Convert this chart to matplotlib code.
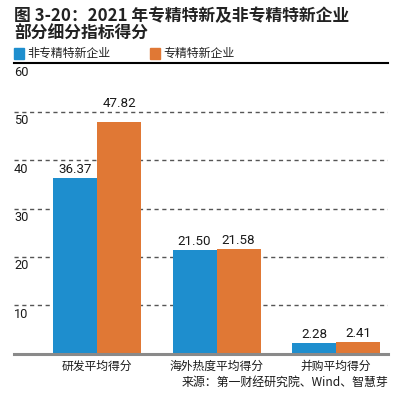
import matplotlib
matplotlib.use("Agg")
import matplotlib.pyplot as plt
import numpy as np

plt.rcParams['font.family'] = ['Noto Sans CJK SC', 'DejaVu Sans']

# data
categories = ['研发平均得分', '海外热度平均得分', '并购平均得分']
non_specialized = [36.37, 21.50, 2.28]
specialized = [47.82, 21.58, 2.41]
series_names = ['非专精特新企业', '专精特新企业']
yticks = [10, 20, 30, 40, 50, 60]

blue = '#1E8ECE'
orange = '#E07835'

W, H = 399, 395
fig = plt.figure(figsize=(W / 100, H / 100), dpi=100)

# axes placed in pixel units
left, right, top, bottom = 14, 388, 63.3, 353.7
ax = fig.add_axes([left / W, 1 - bottom / H, (right - left) / W, (bottom - top) / H])

x = np.arange(len(categories))
bw = 0.368
ax.set_xlim(-0.695, 2.435)
ax.set_ylim(0, 60)

for yv in yticks[:-1]:
    ax.axhline(yv, color='#555555', lw=1.0, ls=(0, (3, 2.6)), zorder=1)
ax.axhline(60, color='black', lw=1.5, zorder=3, clip_on=False)
ax.axhline(0, color='#8a8a8a', lw=2.2, zorder=3, clip_on=False)

b1 = ax.bar(x - bw / 2, non_specialized, bw, color=blue, zorder=2)
b2 = ax.bar(x + bw / 2, specialized, bw, color=orange, zorder=2)

for bars, vals in ((b1, non_specialized), (b2, specialized)):
    for r, v in zip(bars, vals):
        # lift the label over a gridline it would otherwise sit on
        ya = v
        for g in yticks:
            if v < g < v + 3.0:
                ya = g
        ax.annotate(f'{v:.2f}', (r.get_x() + r.get_width() / 2, ya),
                    xytext=(0, 1.3), textcoords='offset points',
                    ha='center', va='bottom', fontsize=9.6,
                    family=['Roboto', 'DejaVu Sans'], color='#1a1a1a')

# y tick labels drawn under their gridlines
for yv in yticks:
    ax.annotate(str(yv), (0, yv), xycoords=('axes fraction', 'data'),
                xytext=(0, -1.8), textcoords='offset points',
                ha='left', va='top', fontsize=9.2,
                family=['Roboto', 'DejaVu Sans'], color='#1a1a1a')

for xi, c in zip(x, categories):
    ax.text(xi, -1.2, c, ha='center', va='top', fontsize=8.5, color='#1a1a1a')

for s in ax.spines.values():
    s.set_visible(False)
ax.set_xticks([])
ax.set_yticks([])

# title
fig.text(14 / W, 1 - 16 / H, '图 3-20：2021 年专精特新及非专精特新企业',
         fontsize=12.1, fontweight='bold', va='center', ha='left', color='#222222')
fig.text(14 / W, 1 - 34 / H, '部分细分指标得分',
         fontsize=12.1, fontweight='bold', va='center', ha='left', color='#222222')

# legend
for (lx, name, col) in ((14, series_names[0], blue), (150, series_names[1], orange)):
    fig.patches.append(plt.Rectangle((lx / W, 1 - 59 / H), 10 / W, 11 / H,
                                     transform=fig.transFigure, color=col))
    fig.text((lx + 13) / W, 1 - 53.5 / H, name, fontsize=8.6, va='center',
             ha='left', color='#222222')

# source
fig.text(388 / W, 1 - 382 / H, '来源：第一财经研究院、Wind、智慧芽',
         fontsize=8.6, va='center', ha='right', color='#1a1a1a')

fig.savefig('out.png', dpi=100)
